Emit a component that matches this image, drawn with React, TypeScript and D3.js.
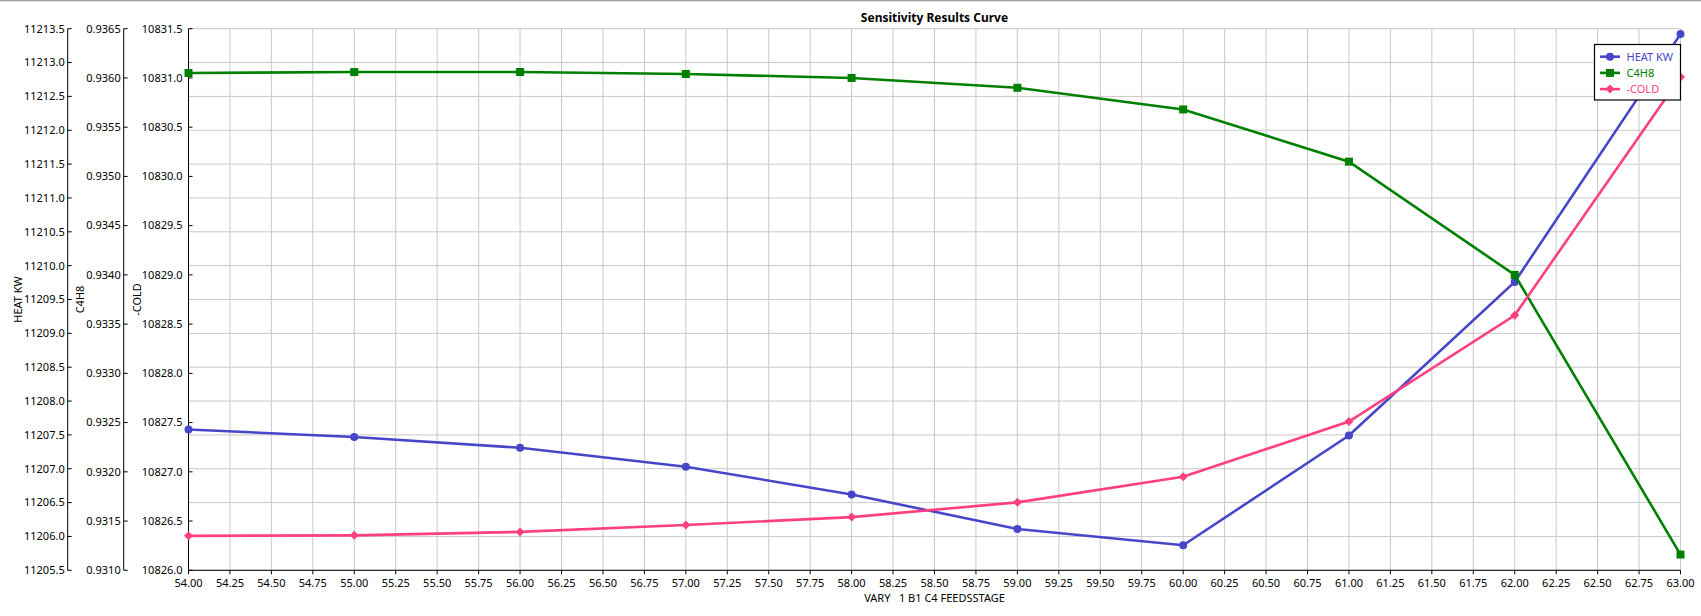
import * as d3 from "d3";

// VARY 1 B1 C4 FEEDSSTAGE
const stages = [54, 55, 56, 57, 58, 59, 60, 61, 62, 63];
const heatKw = [11207.58, 11207.47, 11207.31, 11207.03, 11206.62, 11206.11, 11205.87, 11207.49, 11209.76, 11213.42];
const c4h8 = [0.93605, 0.93606, 0.93606, 0.93604, 0.936, 0.9359, 0.93568, 0.93515, 0.934, 0.93116];
const cold = [10826.35, 10826.355, 10826.39, 10826.46, 10826.54, 10826.69, 10826.95, 10827.51, 10828.59, 10831.01];

const xTicks = d3.range(54, 63.001, 0.25);
const heatTicks = d3.range(11205.5, 11213.51, 0.5);
const c4h8Ticks = d3.range(0.931, 0.93651, 0.0005);
const coldTicks = d3.range(10826, 10831.51, 0.5);

const W = 1701,
  H = 616;
const left = 188.5,
  right = 1680.5,
  top = 28.7,
  bottom = 570.3;

const FONT = "'Segoe UI', 'Noto Sans', sans-serif";
const BLUE = "#4646c8";
const GREEN = "#008000";
const PINK = "#ff4080";

export default function App() {
  const x = d3.scaleLinear().domain([54, 63]).range([left, right]);
  const yHeat = d3.scaleLinear().domain([11205.5, 11213.5]).range([bottom, top]);
  const yC4 = d3.scaleLinear().domain([0.931, 0.9365]).range([bottom, top]);
  const yCold = d3.scaleLinear().domain([10826, 10831.5]).range([bottom, top]);

  const line = (vals: number[], y: d3.ScaleLinear<number, number>) =>
    d3.line<number>().x((_, i) => x(stages[i])).y((v) => y(v))(vals) || "";

  const yAxes = [
    { ticks: heatTicks, scale: yHeat, ax: 67.7, gap: 3, fmt: d3.format(".1f"), title: "HEAT KW", tx: 18 },
    { ticks: c4h8Ticks, scale: yC4, ax: 123.7, gap: 3, fmt: d3.format(".4f"), title: "C4H8", tx: 80 },
    { ticks: coldTicks, scale: yCold, ax: left, gap: 6, fmt: d3.format(".1f"), title: "-COLD", tx: 137 },
  ];

  const series = [
    { name: "HEAT KW", vals: heatKw, scale: yHeat, color: BLUE, shape: "circle" },
    { name: "C4H8", vals: c4h8, scale: yC4, color: GREEN, shape: "square" },
    { name: "-COLD", vals: cold, scale: yCold, color: PINK, shape: "diamond" },
  ];

  const marker = (shape: string, cx: number, cy: number, color: string, key?: string | number) => {
    if (shape === "circle") return <circle key={key} cx={cx} cy={cy} r={4} fill={color} />;
    if (shape === "square") return <rect key={key} x={cx - 4} y={cy - 4} width={8} height={8} fill={color} />;
    return (
      <path key={key} d={`M${cx},${cy - 4.5}L${cx + 4.5},${cy}L${cx},${cy + 4.5}L${cx - 4.5},${cy}Z`} fill={color} />
    );
  };

  const yMid = (top + bottom) / 2;

  return (
    <svg
      width={W}
      height={H}
      style={{ position: "absolute", left: 0, top: 0, background: "#fff" }}
      fontFamily={FONT}
    >
      <line x1={0} x2={W} y1={0.5} y2={0.5} stroke="#9aa0a8" strokeWidth={1.5} />
      <text x={(left + right) / 2} y={22} textAnchor="middle" fontSize={12} fontWeight="bold">
        Sensitivity Results Curve
      </text>

      {/* grid */}
      <g stroke="#c8c8c8" strokeWidth={1}>
        {xTicks.map((t, i) => (
          <line key={"gx" + i} x1={x(t)} x2={x(t)} y1={top} y2={bottom} />
        ))}
        {heatTicks.map((t, i) => (
          <line key={"gy" + i} x1={left} x2={right} y1={yHeat(t)} y2={yHeat(t)} />
        ))}
      </g>

      {/* x axis */}
      <line x1={left} x2={right} y1={bottom} y2={bottom} stroke="#000" />
      {xTicks.map((t, i) => (
        <g key={"xt" + i}>
          <line x1={x(t)} x2={x(t)} y1={bottom} y2={bottom + 4} stroke="#000" />
          <text x={x(t)} y={bottom + 17} textAnchor="middle" fontSize={11}>
            {d3.format(".2f")(t)}
          </text>
        </g>
      ))}
      <text x={(left + right) / 2} y={602} textAnchor="middle" fontSize={11} style={{ whiteSpace: "pre" }}>
        {"VARY   1 B1 C4 FEEDSSTAGE"}
      </text>

      {/* y axes */}
      {yAxes.map((a, j) => (
        <g key={"ya" + j}>
          <line x1={a.ax} x2={a.ax} y1={top} y2={bottom} stroke="#000" />
          {a.ticks.map((t, i) => (
            <g key={i}>
              <line x1={a.ax} x2={a.ax + 4} y1={a.scale(t)} y2={a.scale(t)} stroke="#000" />
              <text x={a.ax - a.gap} y={a.scale(t)} dy="0.35em" textAnchor="end" fontSize={11}>
                {a.fmt(t)}
              </text>
            </g>
          ))}
          <text
            transform={`translate(${a.tx},${yMid}) rotate(-90)`}
            textAnchor="middle"
            dy="0.35em"
            fontSize={11}
          >
            {a.title}
          </text>
        </g>
      ))}

      {/* series */}
      {series.map((s, j) => (
        <g key={"s" + j}>
          <path d={line(s.vals, s.scale)} fill="none" stroke={s.color} strokeWidth={2.6} />
          {s.vals.map((v, i) => marker(s.shape, x(stages[i]), s.scale(v), s.color, i))}
        </g>
      ))}

      {/* legend */}
      <g>
        <rect x={1594.5} y={44.5} width={86} height={55.5} fill="#fff" stroke="#000" strokeWidth={1.2} />
        {series.map((s, i) => {
          const ly = 56.7 + i * 16.2;
          return (
            <g key={"lg" + i}>
              <line x1={1600} x2={1620} y1={ly} y2={ly} stroke={s.color} strokeWidth={2.6} />
              {marker(s.shape, 1610, ly, s.color)}
              <text x={1626.5} y={ly} dy="0.35em" fontSize={11} fill={s.color}>
                {s.name}
              </text>
            </g>
          );
        })}
      </g>
    </svg>
  );
}
